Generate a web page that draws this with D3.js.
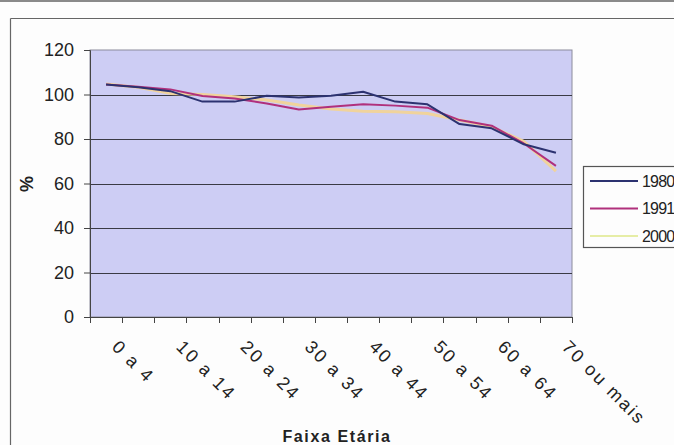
<!DOCTYPE html>
<html>
<head>
<meta charset="utf-8">
<script src="https://cdn.jsdelivr.net/npm/d3@7"></script>
<style>
  html, body { margin: 0; padding: 0; background: #fdfdfd; }
  svg { display: block; font-family: "Liberation Sans", Arial, sans-serif; }
</style>
</head>
<body>
<svg id="chart" width="674" height="445"></svg>
<script>
// Age groups (five-year bands)
const categories = ["0 a 4", "5 a 9", "10 a 14", "15 a 19", "20 a 24", "25 a 29", "30 a 34",
  "35 a 39", "40 a 44", "45 a 49", "50 a 54", "55 a 59", "60 a 64", "65 a 69", "70 ou mais"];
// Labelled age groups on the horizontal axis
const xTickLabels = ["0 a 4", "10 a 14", "20 a 24", "30 a 34", "40 a 44", "50 a 54", "60 a 64", "70 ou mais"];
const yTicks = [0, 20, 40, 60, 80, 100, 120];

const years = ["1980", "1991", "2000"];
const values1980 = [104.5, 103.3, 101.5, 96.8, 96.8, 99.4, 98.7, 99.4, 101.2, 96.8, 95.6, 86.7, 84.8, 77.6, 73.8];
const values1991 = [104.5, 103.5, 102.3, 99.3, 98.2, 96.0, 93.3, 94.5, 95.6, 95.0, 94.1, 88.5, 86.0, 78.0, 67.9];
const values2000 = [104.7, 103.2, 100.5, 100.0, 99.0, 97.5, 95.3, 93.5, 92.5, 92.3, 91.5, 88.5, 85.5, 78.9, 65.6];
const seriesValues = [values1980, values1991, values2000];
const seriesColors = ["#2c3270", "#b0307c", "#f0d39c"];
const legendColors = ["#2c3270", "#b0307c", "#e6eda6"];

const svg = d3.select("#chart");

// outer chart frame
svg.append("rect").attr("x", 0).attr("y", 0).attr("width", 674).attr("height", 2).attr("fill", "#8a8a8a");
svg.append("line").attr("x1", 10.5).attr("x2", 674).attr("y1", 18.5).attr("y2", 18.5)
  .attr("stroke", "#666").attr("stroke-width", 1.2);
svg.append("line").attr("x1", 10.5).attr("x2", 10.5).attr("y1", 18.5).attr("y2", 445)
  .attr("stroke", "#666").attr("stroke-width", 1.2);

const plot = { left: 90, right: 572, top: 50, bottom: 317 };

const x = d3.scaleBand().domain(categories).range([plot.left, plot.right]).padding(0);
const y = d3.scaleLinear().domain([0, 120]).range([plot.bottom, plot.top]);

// plot background
svg.append("rect")
  .attr("x", plot.left).attr("y", plot.top)
  .attr("width", plot.right - plot.left).attr("height", plot.bottom - plot.top)
  .attr("fill", "#cdcdf4")
  .attr("stroke", "#8c8c9c").attr("stroke-width", 1);

// horizontal gridlines
svg.append("g")
  .selectAll("line")
  .data(yTicks.filter(t => t > 0 && t < 120))
  .join("line")
  .attr("x1", plot.left).attr("x2", plot.right)
  .attr("y1", d => Math.round(y(d)) + 0.5).attr("y2", d => Math.round(y(d)) + 0.5)
  .attr("stroke", "#3a3a44").attr("stroke-width", 1.1);

// y axis
const yAxis = svg.append("g")
  .attr("transform", `translate(${plot.left},0)`)
  .call(d3.axisLeft(y).tickValues(yTicks).tickSize(6).tickPadding(10).tickFormat(d3.format("d")));
yAxis.select(".domain").attr("stroke", "#444");
yAxis.selectAll(".tick line").attr("stroke", "#444");
yAxis.selectAll(".tick text")
  .attr("font-size", 18).attr("fill", "#222")
  .attr("font-family", "'Liberation Sans', Arial, sans-serif");

// x axis: ticks sit between the age groups
const boundaries = categories.map(c => x(c)).concat([x(categories[categories.length - 1]) + x.bandwidth()]);
const xAxis = svg.append("g");
xAxis.append("line")
  .attr("x1", plot.left).attr("x2", plot.right)
  .attr("y1", plot.bottom + 0.5).attr("y2", plot.bottom + 0.5)
  .attr("stroke", "#444");
xAxis.selectAll("line.tick")
  .data(boundaries)
  .join("line")
  .attr("class", "tick")
  .attr("x1", d => Math.round(d) + 0.5).attr("x2", d => Math.round(d) + 0.5)
  .attr("y1", plot.bottom).attr("y2", plot.bottom + 6)
  .attr("stroke", "#444");
xAxis.selectAll("text")
  .data(xTickLabels)
  .join("text")
  .attr("transform", d => `translate(${x(d) + x.bandwidth() / 2 + 5},${plot.bottom + 31}) rotate(45)`)
  .attr("text-anchor", "start")
  .attr("font-size", 18)
  .attr("letter-spacing", 2.2)
  .attr("fill", "#222")
  .text(d => d);

// axis titles
svg.append("text")
  .attr("x", 337).attr("y", 442)
  .attr("text-anchor", "middle")
  .attr("font-size", 16).attr("font-weight", "bold").attr("letter-spacing", 1.6)
  .attr("fill", "#222")
  .text("Faixa Etária");
svg.append("text")
  .attr("transform", "translate(33,184) rotate(-90)")
  .attr("text-anchor", "middle")
  .attr("font-size", 18).attr("font-weight", "bold")
  .attr("fill", "#222")
  .text("%");

// series lines
const line = d3.line()
  .x((d, i) => x(categories[i]) + x.bandwidth() / 2)
  .y(d => y(d));

svg.append("g")
  .selectAll("path")
  .data(seriesValues.map((v, i) => ({ v, i })).reverse())
  .join("path")
  .attr("d", d => line(d.v))
  .attr("fill", "none")
  .attr("stroke", d => seriesColors[d.i])
  .attr("stroke-width", d => d.i === 2 ? 3 : 2)
  .attr("stroke-linejoin", "round");

// legend
const legend = svg.append("g");
legend.append("rect")
  .attr("x", 583.5).attr("y", 166.5).attr("width", 100).attr("height", 81)
  .attr("fill", "#fdfdfd").attr("stroke", "#555").attr("stroke-width", 1.2);
const items = legend.selectAll("g.item")
  .data(years)
  .join("g")
  .attr("class", "item")
  .attr("transform", (d, i) => `translate(0,${181 + i * 27.5})`);
items.append("line")
  .attr("x1", 590).attr("x2", 638).attr("y1", 0).attr("y2", 0)
  .attr("stroke", (d, i) => legendColors[i]).attr("stroke-width", 2);
items.append("text")
  .attr("x", 642).attr("y", 0).attr("dy", "0.35em")
  .attr("font-size", 16).attr("fill", "#222").attr("letter-spacing", -0.8)
  .text(d => d);
</script>
</body>
</html>
